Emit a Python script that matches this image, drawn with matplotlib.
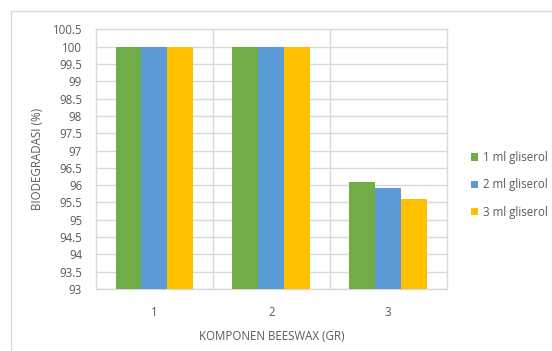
import numpy as np
import matplotlib
matplotlib.use('Agg')
import matplotlib.pyplot as plt
from matplotlib.patches import Rectangle

# Data biodegradasi per komponen beeswax
kategori = ['1', '2', '3']
seri = ['1 ml gliserol', '2 ml gliserol', '3 ml gliserol']
gliserol_1 = [100, 100, 96.1]
gliserol_2 = [100, 100, 95.92]
gliserol_3 = [100, 100, 95.6]
warna = ['#70ad47', '#5b9bd5', '#ffc000']

plt.rcParams['font.family'] = ['Open Sans', 'DejaVu Sans']
teks = '#595959'
grid = '#d9d9d9'
fs = 8.3

fig = plt.figure(figsize=(5.52, 3.51), dpi=100)
ax = fig.add_axes([0.1739, 0.1766, 0.809 - 0.1739, 0.9165 - 0.1766])

x = np.arange(len(kategori))
lebar = 0.222
for i, (nilai, w) in enumerate(zip([gliserol_1, gliserol_2, gliserol_3], warna)):
    ax.bar(x + (i - 1) * lebar, np.array(nilai) - 93, width=lebar, bottom=93,
           color=w, label=seri[i], zorder=3)

ax.set_xlim(-0.5, 2.5)
ax.set_ylim(93, 100.5)
ax.set_yticks(np.arange(93, 100.51, 0.5))
ax.set_yticklabels([f'{v:g}' for v in np.arange(93, 100.51, 0.5)])
ax.set_xticks(x)
ax.set_xticklabels(kategori)

# garis grid horizontal dan pemisah kategori
ax.grid(axis='y', color=grid, linewidth=1, zorder=0)
for b in [0.5, 1.5]:
    ax.axvline(b, color=grid, linewidth=1, zorder=0)
for s in ax.spines.values():
    s.set_color(grid)
    s.set_linewidth(1)

ax.tick_params(axis='both', length=0, colors=teks, labelsize=fs)
ax.tick_params(axis='x', pad=12)
ax.tick_params(axis='y', pad=10)

ax.set_xlabel('KOMPONEN BEESWAX (GR)', color=teks, fontsize=fs, labelpad=8)
ax.set_ylabel('BIODEGRADASI (%)', color=teks, fontsize=fs, labelpad=6)

leg = fig.legend(loc='center left', bbox_to_anchor=(0.835, 0.473), frameon=False,
                 fontsize=fs, handlelength=0.6, handleheight=0.6,
                 handletextpad=0.4, labelspacing=1.25, labelcolor=teks)

# bingkai luar grafik (sisi kanan dan bawah terpotong)
fig.patches.append(Rectangle((11 / 552, -20 / 351), 560 / 552, 360 / 351,
                             transform=fig.transFigure, fill=False,
                             edgecolor=grid, linewidth=1))

fig.savefig('out.png', dpi=100)
